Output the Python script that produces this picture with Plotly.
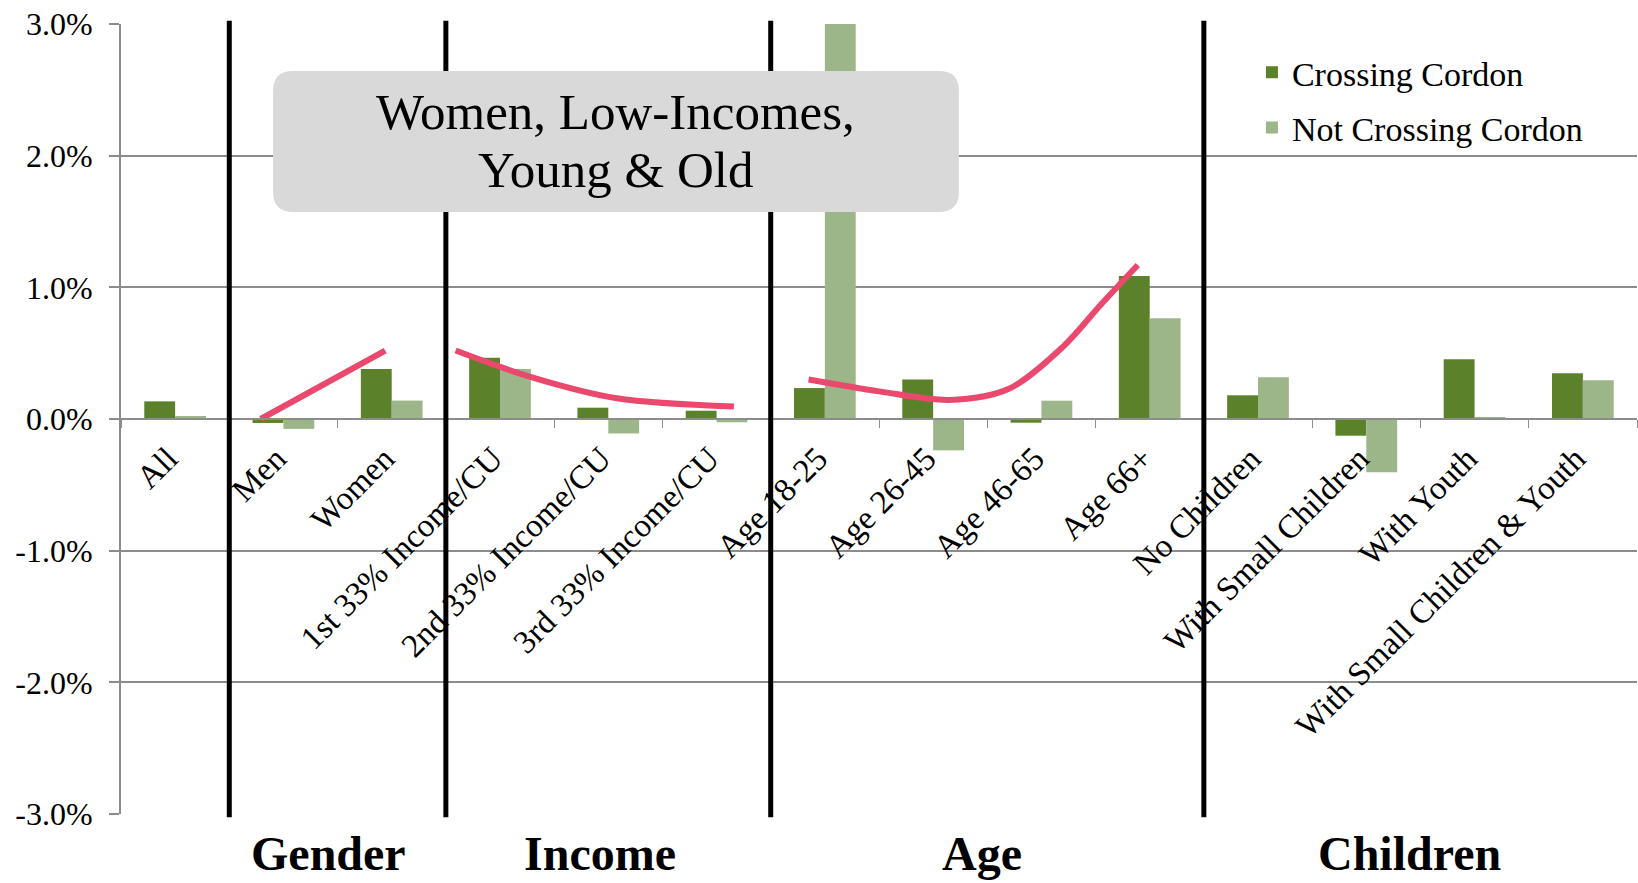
import plotly.graph_objects as go

categories = ["All", "Men", "Women", "1st 33% Income/CU", "2nd 33% Income/CU",
              "3rd 33% Income/CU", "Age 18-25", "Age 26-45", "Age 46-65", "Age 66+",
              "No Children", "With Small Children", "With Youth",
              "With Small Children & Youth"]
crossing = [0.134, -0.03, 0.38, 0.465, 0.086, 0.063, 0.235, 0.30, -0.028, 1.087,
            0.18, -0.127, 0.453, 0.347]
not_crossing = [0.023, -0.075, 0.14, 0.38, -0.11, -0.025, 3.2, -0.238, 0.139, 0.765,
                0.317, -0.405, 0.013, 0.294]

y_tick_vals = [-3, -2, -1, 0, 1, 2, 3]
y_tick_text = ["-3.0%", "-2.0%", "-1.0%", "0.0%", "1.0%", "2.0%", "3.0%"]

separators = [0.5, 2.5, 5.5, 9.5]
groups = ["Gender", "Income", "Age", "Children"]
group_centers = [1.42, 3.92, 7.45, 11.4]

gender_trend_x = [0.79, 1.94]
gender_trend_y = [0.0, 0.52]
income_trend_x = [2.59, 3.28, 4.08, 5.16]
income_trend_y = [0.52, 0.32, 0.157, 0.094]
age_trend_x = [5.85, 6.5, 7.15, 7.7, 8.2, 8.55, 8.89]
age_trend_y = [0.30, 0.21, 0.145, 0.23, 0.55, 0.87, 1.17]

callout_lines = ["Women, Low-Incomes,", "Young & Old"]

DARK = "#5B822B"
LIGHT = "#9CB68A"
PINK = "#EA496D"
GRID = "#8C8C8C"
FONT = "Liberation Serif"

fig = go.Figure()
fig.add_trace(go.Bar(x=categories, y=crossing, name="Crossing Cordon",
                     marker=dict(color=DARK, line=dict(width=0)),
                     legendgroup="a"))
fig.add_trace(go.Bar(x=categories, y=not_crossing, name="Not Crossing Cordon",
                     marker=dict(color=LIGHT, line=dict(width=0)),
                     legendgroup="b"))

for tx, ty in [(gender_trend_x, gender_trend_y), (income_trend_x, income_trend_y),
               (age_trend_x, age_trend_y)]:
    fig.add_trace(go.Scatter(x=tx, y=ty, xaxis="x2", mode="lines",
                             line=dict(color=PINK, width=6, shape="spline", smoothing=0.9),
                             showlegend=False, hoverinfo="skip"))

shapes = []
for s in separators:
    shapes.append(dict(type="line", xref="x2", yref="paper", x0=s, x1=s, y0=-0.004, y1=1.004,
                       line=dict(color="black", width=5), layer="above"))

# rounded callout box (paper coords)
x0, x1, y0, y1 = 0.1003, 0.5527, 0.7620, 0.9405
rx, ry = 0.0132, 0.0253
path = (f"M {x0+rx},{y0} L {x1-rx},{y0} Q {x1},{y0} {x1},{y0+ry} "
        f"L {x1},{y1-ry} Q {x1},{y1} {x1-rx},{y1} L {x0+rx},{y1} Q {x0},{y1} {x0},{y1-ry} "
        f"L {x0},{y0+ry} Q {x0},{y0} {x0+rx},{y0} Z")
shapes.append(dict(type="path", xref="paper", yref="paper", path=path,
                   fillcolor="#D9D9D9", line=dict(width=0), layer="above"))

annotations = []
for line_text, ly in zip(callout_lines, [0.888, 0.815]):
    annotations.append(dict(text=line_text, xref="paper", yref="paper",
                            x=(x0 + x1) / 2, y=ly, showarrow=False,
                            font=dict(family=FONT, size=51, color="black"),
                            xanchor="center", yanchor="middle"))
for g, c in zip(groups, group_centers):
    annotations.append(dict(text=f"<b>{g}</b>", xref="x2", yref="paper", x=c, y=-0.05,
                            showarrow=False, xanchor="center", yanchor="middle",
                            font=dict(family=FONT, size=48, color="black")))

fig.update_layout(
    width=1638, height=883,
    margin=dict(l=121, r=1, t=24, b=69),
    paper_bgcolor="white", plot_bgcolor="white",
    barmode="group", bargap=0.43, bargroupgap=0,
    font=dict(family=FONT, color="black"),
    shapes=shapes, annotations=annotations,
    legend=dict(x=0.746, y=0.975, xanchor="left", yanchor="top",
                bgcolor="rgba(0,0,0,0)", font=dict(family=FONT, size=34),
                traceorder="grouped", tracegroupgap=8),
    xaxis=dict(type="category", range=[-0.5, 13.5], anchor="free", position=0.5,
               showline=True, linecolor=GRID, linewidth=2, showgrid=False,
               tickson="boundaries", ticks="outside", ticklen=8, tickcolor=GRID,
               tickangle=-45, ticklabelstandoff=6, ticklabelshift=-7,
               tickfont=dict(family=FONT, size=33, color="black"),
               zeroline=False),
    xaxis2=dict(overlaying="x", range=[-0.5, 13.5], visible=False, anchor="y"),
    yaxis=dict(range=[-3, 3], tickvals=y_tick_vals, ticktext=y_tick_text,
               showgrid=True, gridcolor=GRID, gridwidth=2, zeroline=False,
               showline=True, linecolor=GRID, linewidth=2,
               ticks="outside", ticklen=10, tickcolor=GRID, tickwidth=2,
               ticklabelstandoff=10,
               tickfont=dict(family=FONT, size=32, color="black")),
)

fig.write_html("out.html")
